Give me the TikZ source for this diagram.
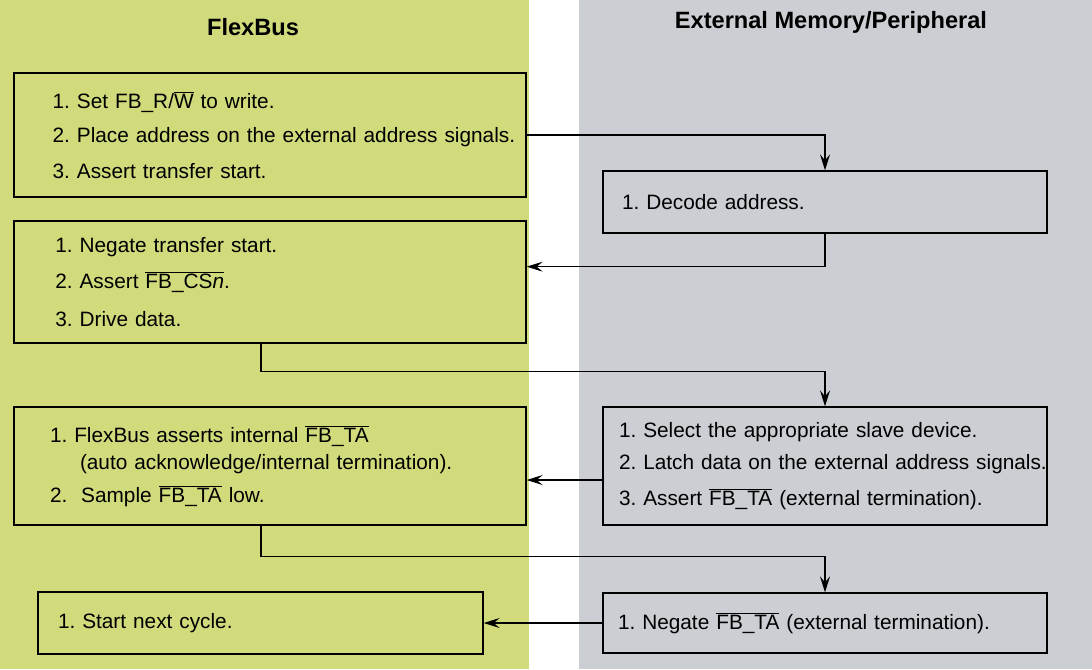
\documentclass[tikz,border=0pt]{standalone}
\usepackage{fontspec}
\setmainfont{Liberation Sans}
\usepackage{tikz}
\usepackage{xcolor}
\usetikzlibrary{arrows.meta, positioning, calc}
\definecolor{cBus}{RGB}{209,219,123}
\definecolor{cMem}{RGB}{203,206,211}
\newcommand{\nbar}[1]{$\overline{\mbox{#1}}$}
\frenchspacing
\tikzset{
	stepbox/.style={rectangle, draw=black, line width=1pt, inner xsep=3pt, inner ysep=0pt, align=left, font=\fontsize{15.6pt}{26pt}\selectfont},
	lpad/.style={execute at begin node={\leftskip=#1\rightskip=-20pt plus 1fil\relax}},
	lanehead/.style={font=\fontsize{17.7pt}{20pt}\selectfont\bfseries},
	flow/.style={-{Stealth[length=12pt, width=7.5pt, inset=4.5pt]}, line width=0.85pt},
}
\begin{document}
\begin{tikzpicture}[x=0.75pt, y=-0.75pt]
	\useasboundingbox (0,0) rectangle (1092,669);
	\fill[cBus] (0,0) rectangle (529,669);
	\fill[cMem] (579,0) rectangle (1092,669);
	\node[lanehead] (fbhead) at (253,27) {FlexBus};
	\node[lanehead] (memhead) at (831,22) {External Memory/Peripheral};
	% FlexBus side
	\node[stepbox, minimum width=384pt, minimum height=93pt, text width=378pt, lpad=26pt] (fb1) at (270,135)
		{1. Set FB\_R/\nbar{W} to write.\\ 2. Place address on the external address signals.\\[1pt] 3. Assert transfer start.};
	\node[stepbox, minimum width=384pt, minimum height=91.5pt, text width=378pt, lpad=28pt] (fb2) at (270,282)
		{1. Negate transfer start.\\[1pt] 2. Assert \nbar{FB\_CS\textit{n}}.\\[2.5pt] 3. Drive data.};
	\node[stepbox, minimum width=384pt, minimum height=88.5pt, text width=378pt, lpad=24pt] (fb3) at (270,466)
		{1. FlexBus asserts internal \nbar{FB\_TA}\\[-6pt] \hspace*{22.5pt}(auto acknowledge/internal termination).\\[-1pt] 2.\ \ Sample \nbar{FB\_TA} low.};
	\node[stepbox, minimum width=333.75pt, minimum height=46.5pt, text width=327.75pt, lpad=12pt] (fb4) at (260.5,623)
		{1. Start next cycle.};
	% memory side
	\node[stepbox, minimum width=333pt, minimum height=46.5pt, text width=327pt, lpad=11.25pt] (mem1) at (825,202)
		{1. Decode address.};
	\node[stepbox, minimum width=333pt, minimum height=88.5pt, text width=327pt, lpad=9pt] (mem2) at (825,466)
		{1. Select the appropriate slave device.\\[-2pt] 2. Latch data on the external address signals.\\[1pt] 3. Assert \nbar{FB\_TA} (external termination).};
	\node[stepbox, minimum width=333pt, minimum height=45pt, text width=327pt, lpad=8.25pt] (mem3) at (825,623)
		{1. Negate \nbar{FB\_TA} (external termination).};
	% handshakes
	\draw[flow] (fb1.east) -| (mem1.north);
	\draw[flow] (mem1.south) -- ++(0,33) coordinate (r1) -- (r1 -| fb2.east);
	\draw[flow] ([xshift=-6.75pt]fb2.south) -- ++(0,28) -| (mem2.north);
	\draw[flow] (mem2.west) ++(0,14) coordinate (r2) -- (r2 -| fb3.east);
	\draw[flow] ([xshift=-6.75pt]fb3.south) -- ++(0,31) -| (mem3.north);
	\draw[flow] (mem3.west) -- (fb4.east);
\end{tikzpicture}
\end{document}
